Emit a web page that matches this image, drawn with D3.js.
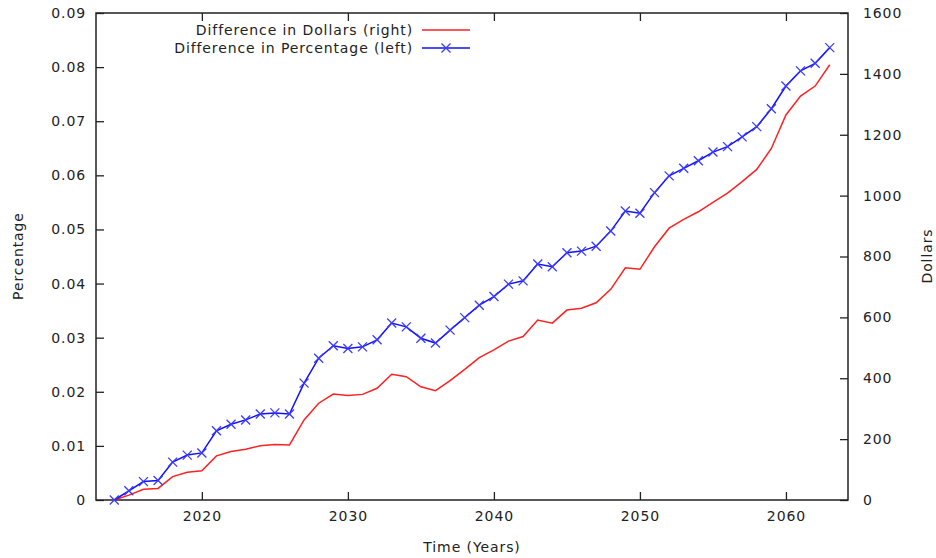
<!DOCTYPE html>
<html>
<head>
<meta charset="utf-8">
<script src="https://cdn.jsdelivr.net/npm/d3@7"></script>
<style>
  html, body { margin: 0; padding: 0; background: #fff; }
  svg text { font-family: "DejaVu Sans", Verdana, sans-serif; fill: #222; letter-spacing: 0.9px; }
</style>
</head>
<body>
<svg id="chart" width="936" height="558"></svg>
<script>
// Years covered by both series
const years = d3.range(2014, 2064);

// Difference in percentage (left axis)
const pctValues = [
  0.0000, 0.0017, 0.0034, 0.0036, 0.0070, 0.0083, 0.0087, 0.0128, 0.0140, 0.0148,
  0.0159, 0.0161, 0.0159, 0.0216, 0.0262, 0.0285, 0.0280, 0.0283, 0.0296, 0.0327,
  0.0320, 0.0299, 0.0290, 0.0314, 0.0337, 0.0360, 0.0376, 0.0399, 0.0405, 0.0436,
  0.0431, 0.0457, 0.0460, 0.0469, 0.0497, 0.0534, 0.0530, 0.0568, 0.0599, 0.0613,
  0.0627, 0.0643, 0.0653, 0.0671, 0.0690, 0.0723, 0.0765, 0.0793, 0.0807, 0.0836
];

// Difference in dollars (right axis)
const dollarValues = [
     0,   16,   35,   38,   77,   91,   96,  145,  159,  167,
   178,  182,  181,  263,  318,  348,  343,  347,  367,  413,
   405,  372,  359,  392,  429,  468,  493,  522,  537,  591,
   581,  624,  630,  648,  692,  763,  758,  832,  893,  922,
   947,  978, 1008, 1046, 1086, 1155, 1265, 1327, 1360, 1430
];

// Tick values
const xTicks = [2020, 2030, 2040, 2050, 2060];
const pctTicks = [0, 0.01, 0.02, 0.03, 0.04, 0.05, 0.06, 0.07, 0.08, 0.09];
const dollarTicks = [0, 200, 400, 600, 800, 1000, 1200, 1400, 1600];

const svg = d3.select("#chart");
const plot = { left: 96, right: 848, top: 13, bottom: 500 };

const x = d3.scaleLinear().domain([2012.75, 2064.25]).range([plot.left, plot.right]);
const yL = d3.scaleLinear().domain([0, 0.09]).range([plot.bottom, plot.top]);
const yR = d3.scaleLinear().domain([0, 1600]).range([plot.bottom, plot.top]);

const fontSize = 14;
const axisColor = "#222";

function styleAxis(g) {
  g.select(".domain").remove();
  g.selectAll(".tick line").attr("stroke", axisColor).attr("stroke-width", 1.3);
  g.selectAll(".tick text")
    .style("font-size", fontSize + "px")
    .style("font-family", '"DejaVu Sans", Verdana, sans-serif')
    .attr("fill", axisColor);
}

// Bottom axis (ticks point into the plot)
svg.append("g")
  .attr("transform", `translate(0,${plot.bottom})`)
  .call(d3.axisBottom(x).tickValues(xTicks).tickFormat(d3.format("d"))
    .tickSizeInner(-8).tickSizeOuter(0).tickPadding(11))
  .call(styleAxis);

// Mirrored ticks along the top edge
svg.append("g")
  .attr("transform", `translate(0,${plot.top})`)
  .call(d3.axisTop(x).tickValues(xTicks).tickFormat("")
    .tickSizeInner(-8).tickSizeOuter(0))
  .call(styleAxis);

// Left axis: percentage
svg.append("g")
  .attr("transform", `translate(${plot.left},0)`)
  .call(d3.axisLeft(yL).tickValues(pctTicks)
    .tickFormat(d => d === 0 ? "0" : d3.format(".2f")(d))
    .tickSizeInner(-8).tickSizeOuter(0).tickPadding(10))
  .call(styleAxis);

// Right axis: dollars
svg.append("g")
  .attr("transform", `translate(${plot.right},0)`)
  .call(d3.axisRight(yR).tickValues(dollarTicks).tickFormat(d3.format("d"))
    .tickSizeInner(-8).tickSizeOuter(0).tickPadding(15))
  .call(styleAxis);

// Plot frame
svg.append("rect")
  .attr("x", plot.left).attr("y", plot.top)
  .attr("width", plot.right - plot.left).attr("height", plot.bottom - plot.top)
  .attr("fill", "none").attr("stroke", axisColor).attr("stroke-width", 1.5);

// Axis titles
svg.append("text")
  .attr("x", (plot.left + plot.right) / 2).attr("y", 552)
  .attr("text-anchor", "middle").style("font-size", fontSize + "px")
  .text("Time (Years)");

svg.append("text")
  .attr("transform", `translate(23,256) rotate(-90)`)
  .attr("text-anchor", "middle").style("font-size", fontSize + "px")
  .text("Percentage");

svg.append("text")
  .attr("transform", `translate(932,256) rotate(-90)`)
  .attr("text-anchor", "middle").style("font-size", fontSize + "px")
  .text("Dollars");

// Series lines
const dollarLine = d3.line().x((d, i) => x(years[i])).y(d => yR(d));
const pctLine = d3.line().x((d, i) => x(years[i])).y(d => yL(d));

svg.append("path")
  .datum(dollarValues)
  .attr("d", dollarLine)
  .attr("fill", "none").attr("stroke", "#ff2020").attr("stroke-width", 1.5);

svg.append("path")
  .datum(pctValues)
  .attr("d", pctLine)
  .attr("fill", "none").attr("stroke", "#1010ff").attr("stroke-width", 1.5);

// Cross markers on the percentage series
const m = 4.5;
function cross(sel) {
  sel.append("line").attr("x1", -m).attr("y1", -m).attr("x2", m).attr("y2", m);
  sel.append("line").attr("x1", -m).attr("y1", m).attr("x2", m).attr("y2", -m);
}
svg.append("g").attr("stroke", "#3a3aff").attr("stroke-width", 1.3)
  .selectAll("g")
  .data(pctValues)
  .join("g")
  .attr("transform", (d, i) => `translate(${x(years[i])},${yL(d)})`)
  .each(function () { cross(d3.select(this)); });

// Legend
const legend = svg.append("g");
const legendItems = [
  { label: "Difference in Dollars (right)", color: "#ff2020", marker: false, y: 30 },
  { label: "Difference in Percentage (left)", color: "#1010ff", marker: true, y: 48 }
];
legendItems.forEach(it => {
  legend.append("text")
    .attr("x", 413).attr("y", it.y + 5)
    .attr("text-anchor", "end").style("font-size", fontSize + "px")
    .text(it.label);
  legend.append("line")
    .attr("x1", 422).attr("x2", 470).attr("y1", it.y).attr("y2", it.y)
    .attr("stroke", it.color).attr("stroke-width", 1.5);
  if (it.marker) {
    const g = legend.append("g").attr("transform", `translate(446,${it.y})`)
      .attr("stroke", "#3a3aff").attr("stroke-width", 1.3);
    cross(g);
  }
});
</script>
</body>
</html>
